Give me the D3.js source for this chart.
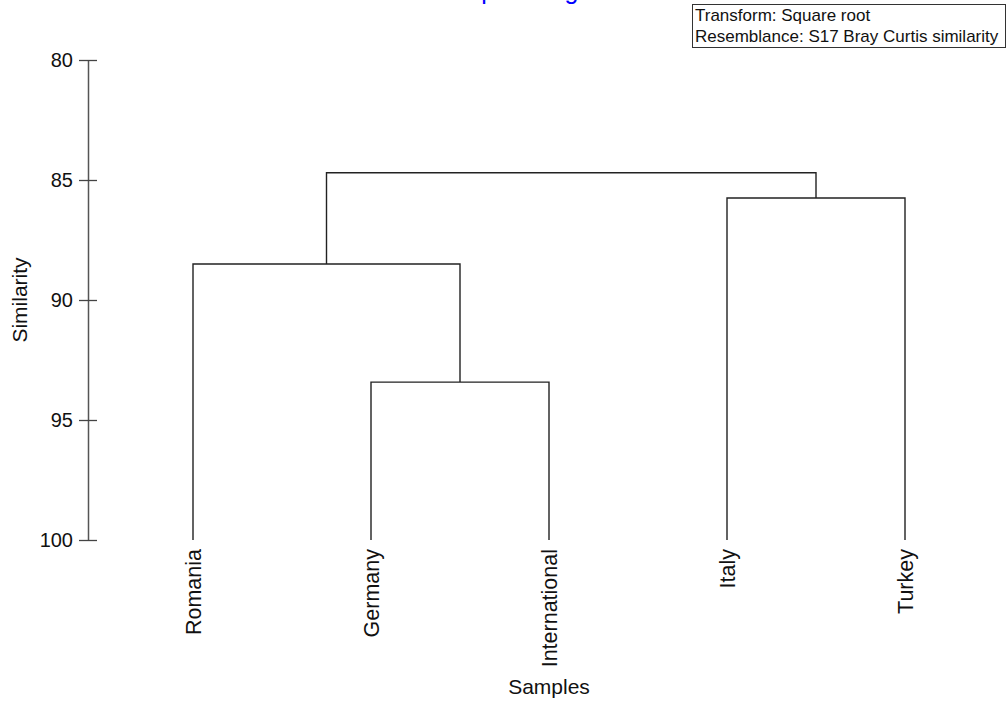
<!DOCTYPE html>
<html>
<head>
<meta charset="utf-8">
<script src="https://cdn.jsdelivr.net/npm/d3@7/dist/d3.min.js"></script>
<style>
  body { margin: 0; background: #fff; }
  text { font-family: Arial, "Liberation Sans", sans-serif; }
</style>
</head>
<body>
<svg id="chart"></svg>
<script>
const width = 1007, height = 702;

// leaves in plotted order
const leaves = ['Romania', 'Germany', 'International', 'Italy', 'Turkey'];
// merges: node ids 0..4 are leaves, 5.. are merges in this order
const mergeLeft = [1, 0, 3, 6];
const mergeRight = [2, 5, 4, 7];
const mergeSimilarity = [93.42, 88.5, 85.75, 84.7];
const yTicks = [80, 85, 90, 95, 100];
const infoLines = ['Transform: Square root', 'Resemblance: S17 Bray Curtis similarity'];
const title = 'Group average';

const svg = d3.select('#chart')
  .attr('width', width)
  .attr('height', height)
  .attr('viewBox', [0, 0, width, height]);

const x = d3.scalePoint().domain(leaves).range([193, 905]);
const y = d3.scaleLinear().domain([80, 100]).range([60, 540]);

// node positions
const nodes = leaves.map((d) => ({ x: x(d), s: 100 }));
mergeLeft.forEach((l, i) => {
  const r = mergeRight[i];
  nodes.push({ x: (nodes[l].x + nodes[r].x) / 2, s: mergeSimilarity[i], l: l, r: r });
});

/** TITLE (cut off at the top, like the original) **/
svg.append('text')
  .attr('x', 509).attr('y', -1)
  .attr('text-anchor', 'middle')
  .style('font-size', '25px')
  .style('fill', '#0000ff')
  .text(title);

/** Y AXIS **/
const yAxis = svg.append('g')
  .attr('transform', 'translate(88,0)')
  .call(d3.axisLeft(y).tickValues(yTicks).tickSizeInner(9).tickSizeOuter(0).tickPadding(6));
yAxis.select('.domain').attr('stroke', '#555').attr('stroke-width', 1.5);
yAxis.selectAll('.tick line').attr('x1', 9).attr('stroke', '#444').attr('stroke-width', 1.3);
yAxis.selectAll('.tick text')
  .style('font-size', '20px')
  .style('font-family', 'Arial, "Liberation Sans", sans-serif')
  .attr('fill', '#111');

svg.append('text')
  .attr('transform', 'translate(27,300) rotate(-90)')
  .attr('text-anchor', 'middle')
  .style('font-size', '21px')
  .style('fill', '#111')
  .text('Similarity');

/** DENDROGRAM LINKS **/
svg.append('g').selectAll('path')
  .data(nodes.filter((d) => d.l !== undefined))
  .join('path')
  .attr('d', (d) => {
    const a = nodes[d.l], b = nodes[d.r];
    return `M${a.x},${y(a.s)}V${y(d.s)}H${b.x}V${y(b.s)}`;
  })
  .attr('fill', 'none')
  .attr('stroke', '#222')
  .attr('stroke-width', 1.4);

/** LEAF LABELS **/
svg.append('g').selectAll('text')
  .data(leaves)
  .join('text')
  .attr('transform', (d) => `translate(${x(d)},549) rotate(-90)`)
  .attr('dy', '0.36em')
  .attr('text-anchor', 'end')
  .style('font-size', '21.5px')
  .style('fill', '#111')
  .text((d) => d);

svg.append('text')
  .attr('x', 549).attr('y', 694)
  .attr('text-anchor', 'middle')
  .style('font-size', '21px')
  .style('fill', '#111')
  .text('Samples');

/** INFO BOX **/
svg.append('rect')
  .attr('x', 692.5).attr('y', 4.5)
  .attr('width', 313).attr('height', 43)
  .attr('fill', '#fff')
  .attr('stroke', '#333')
  .attr('stroke-width', 1);
svg.append('g').selectAll('text')
  .data(infoLines)
  .join('text')
  .attr('x', 695)
  .attr('y', (d, i) => 21 + i * 21)
  .style('font-size', '17px')
  .style('fill', '#111')
  .text((d) => d);
</script>
</body>
</html>
